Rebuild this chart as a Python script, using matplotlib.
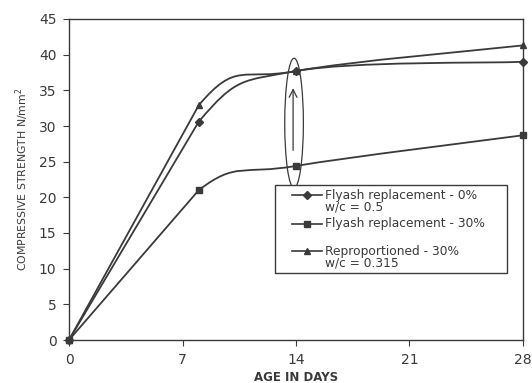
import numpy as np
import matplotlib
matplotlib.use("Agg")
import matplotlib.pyplot as plt
from matplotlib.path import Path
from matplotlib.patches import PathPatch, Ellipse, Rectangle

# Compressive strength (N/mm^2) against age (days)
age_days = [0, 8, 14, 28]
flyash_0 = [0, 30.6, 37.7, 39.0]
flyash_30 = [0, 21.0, 24.4, 28.7]
reprop_30 = [0, 32.9, 37.7, 41.3]

series_labels = [
    ["Flyash replacement - 0%", "w/c = 0.5"],
    ["Flyash replacement - 30%"],
    ["Reproportioned - 30%", "w/c = 0.315"],
]
series_markers = ["D", "s", "^"]

x_ticks = [0, 7, 14, 21, 28]
y_ticks = list(range(0, 50, 5))

INK = "#3a3a3a"
plt.rcParams["font.family"] = ["DejaVu Sans"]


def smooth_path(xs, ys):
    """Straight rise from the origin, then a smooth Bezier through the rest."""
    pts = np.column_stack([xs, ys]).astype(float)
    n = len(pts)
    verts = [pts[0], pts[1]]
    codes = [Path.MOVETO, Path.LINETO]
    for i in range(1, n - 1):
        p0 = pts[max(i - 1, 0)]
        p1 = pts[i]
        p2 = pts[i + 1]
        p3 = pts[min(i + 2, n - 1)]
        verts += [p1 + (p2 - p0) / 6.0, p2 - (p3 - p1) / 6.0, p2]
        codes += [Path.CURVE4] * 3
    return Path(verts, codes)


fig = plt.figure(figsize=(5.32, 3.83), dpi=100)
ax = fig.add_axes([69 / 532, 1 - 340 / 383, 454 / 532, 321 / 383])
ax.set_xlim(0, 28)
ax.set_ylim(0, 45)

for ys, mk in zip([flyash_0, flyash_30, reprop_30], series_markers):
    ax.add_patch(PathPatch(smooth_path(age_days, ys), fill=False,
                           edgecolor=INK, lw=1.3, zorder=3))
    ax.plot(age_days, ys, linestyle="none", marker=mk, ms=5 if mk != "D" else 4.2,
            color=INK, zorder=4, clip_on=False)

# Ellipse and arrow highlighting the 14-day gain
ax.add_patch(Ellipse((13.88, 30.4), 1.15, 18.2, fill=False,
                     edgecolor=INK, lw=0.9, zorder=5))
ax.annotate("", xy=(13.82, 35.7), xytext=(13.82, 26.2),
            arrowprops=dict(arrowstyle="->", lw=0.9, color=INK,
                            mutation_scale=14))

ax.set_xticks(x_ticks)
ax.set_yticks(y_ticks)
ax.tick_params(direction="out", length=4, width=0.8, colors=INK,
               labelsize=10, pad=5)
for s in ax.spines.values():
    s.set_color(INK)
    s.set_linewidth(1.0)

ax.set_ylabel("COMPRESSIVE STRENGTH N/mm$^2$", fontsize=7.8, color=INK,
              labelpad=6)
ax.set_xlabel("AGE IN DAYS", fontsize=8.5, fontweight="bold", color=INK,
              labelpad=3)

# Legend box
lx0, lx1 = (275 - 69) / 454, (507 - 69) / 454
ly0, ly1 = (340 - 273) / 321, (340 - 185) / 321
ax.add_patch(Rectangle((lx0, ly0), lx1 - lx0, ly1 - ly0, transform=ax.transAxes,
                       fill=True, facecolor="white", edgecolor=INK, lw=1.0,
                       zorder=6))
entry_y = [(340 - 195) / 321, (340 - 224) / 321, (340 - 251) / 321]
line_gap = 12.5 / 321
hx0, hx1 = (292 - 69) / 454, (322 - 69) / 454
tx = (325 - 69) / 454
for y, lab, mk in zip(entry_y, series_labels, series_markers):
    ax.plot([hx0, hx1], [y, y], transform=ax.transAxes, color=INK, lw=1.2,
            zorder=7, clip_on=False)
    ax.plot([(hx0 + hx1) / 2], [y], transform=ax.transAxes, marker=mk,
            ms=5 if mk != "D" else 4.2, color=INK, zorder=8, clip_on=False)
    for k, line in enumerate(lab):
        ax.text(tx, y - k * line_gap, line, transform=ax.transAxes,
                va="center", ha="left", fontsize=8.8, color=INK, zorder=8)

fig.savefig("out.png", dpi=100, facecolor="white")
